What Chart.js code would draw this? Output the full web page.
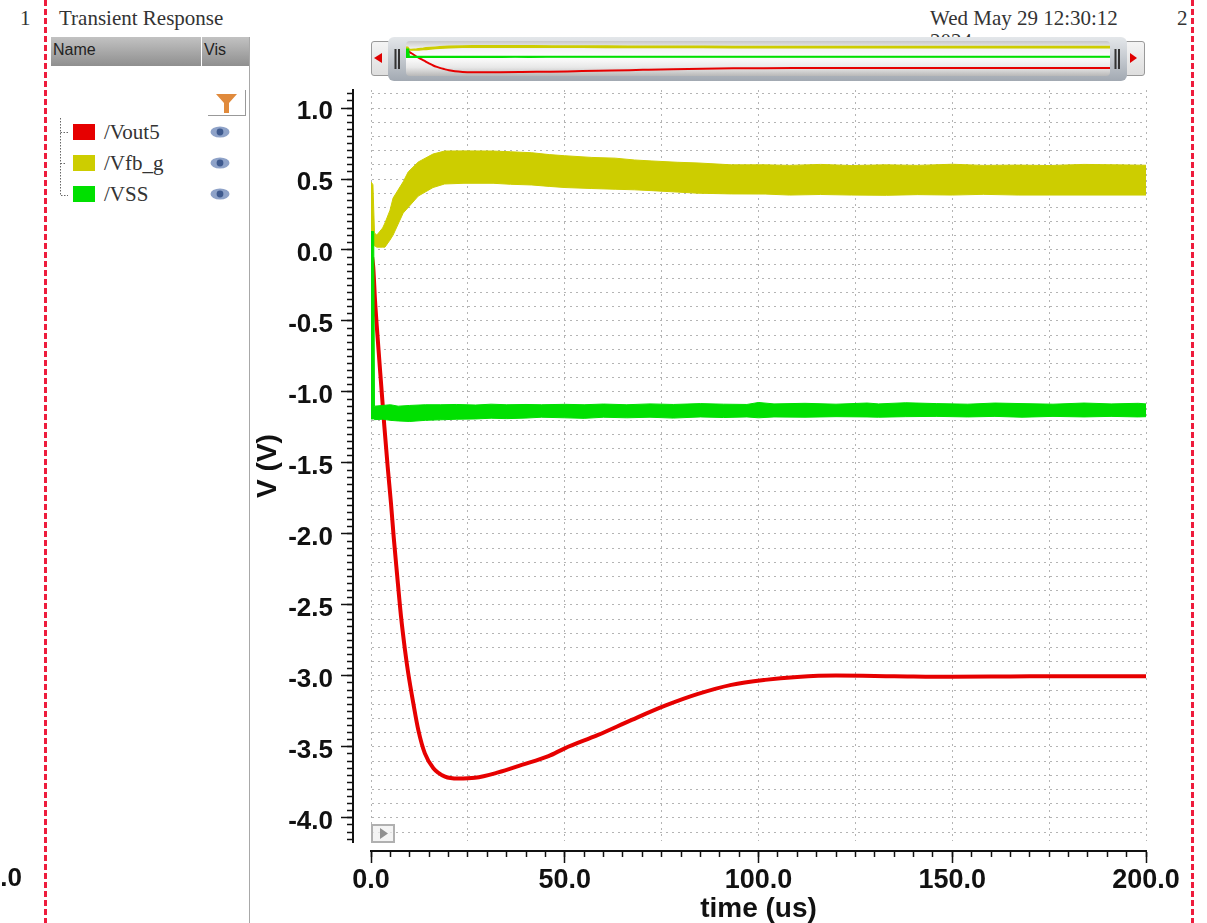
<!DOCTYPE html>
<html>
<head>
<meta charset="utf-8">
<title>Transient Response</title>
<script src="https://cdn.jsdelivr.net/npm/chart.js@4/dist/chart.umd.min.js"></script>
<style>
html,body{margin:0;padding:0;background:#fff;width:1207px;height:923px;overflow:hidden}
body{position:relative;font-family:"Liberation Serif",serif;color:#333}
.abs{position:absolute}
.dash{position:absolute;top:0;width:3px;height:923px;background:repeating-linear-gradient(to bottom,#ee1c3c 0,#ee1c3c 6px,#fff 6px,#fff 9px)}
.t{position:absolute;white-space:nowrap;font-size:21px;line-height:22px}
.sw{position:absolute;left:73px;width:22px;height:16px}
.hdr{position:absolute;top:37px;height:29px;background:linear-gradient(#c2c2c2,#8f8f8f);font:16px "Liberation Sans",sans-serif;color:#222;line-height:26px;box-sizing:border-box;padding-left:2px}
#mini{position:absolute;left:406px;top:40px}
#main{position:absolute;left:0;top:0}
</style>
</head>
<body>
<div class="dash" style="left:44px"></div>
<div class="dash" style="left:1191px"></div>
<div class="t" style="left:20px;top:7px">1</div>
<div class="t" style="left:1177px;top:7px">2</div>
<div class="t" id="ttl" style="left:59px;top:7px">Transient Response</div>
<div class="t" style="left:930px;top:7px">Wed May 29 12:30:12</div>
<div class="abs" style="left:930px;top:33px;width:60px;height:5px;overflow:hidden"><div class="t" style="left:0;top:-3px">2024</div></div>

<div class="hdr" style="left:51px;width:150px">Name</div>
<div class="hdr" style="left:202px;width:47px">Vis</div>
<div class="abs" style="left:249px;top:37px;width:1px;height:886px;background:#a8a8a8"></div>
<div class="abs" style="left:208px;top:90px;width:37px;height:25px;border-right:1px solid #999;border-bottom:1px solid #999;background:#fff">
<svg width="37" height="25"><polygon points="8,4 29,4 21,13 21,23 16,23 16,13" fill="#e08a3c"/></svg></div>
<svg class="abs" style="left:58px;top:115px" width="16" height="85"><path d="M2.5 3V80.5H10M2.5 17.5H10M2.5 48.5H8" fill="none" stroke="#666" stroke-dasharray="1.5 1.5"/></svg>
<div class="sw" style="top:124px;background:#e60000"></div>
<div class="sw" style="top:155px;background:#cdcd00"></div>
<div class="sw" style="top:186px;background:#00e000"></div>
<div class="t" style="left:104px;top:121px">/Vout5</div>
<div class="t" style="left:104px;top:152px">/Vfb_g</div>
<div class="t" style="left:104px;top:183px">/VSS</div>
<svg class="abs" style="left:210px;top:124px" width="20" height="80">
<g id="eye"><ellipse cx="10" cy="8" rx="9.5" ry="5.5" fill="#8ea2c8"/><circle cx="10" cy="8" r="3.4" fill="#3f5a8e"/></g>
<use href="#eye" y="31"/><use href="#eye" y="62"/></svg>

<!-- overview strip -->
<div class="abs" style="left:371px;top:41px;width:20px;height:35px;background:linear-gradient(#f4f4f4,#dedede);border:1px solid #999;border-radius:3px;box-sizing:border-box"></div>
<div class="abs" style="left:1124px;top:41px;width:21px;height:35px;background:linear-gradient(#f4f4f4,#dedede);border:1px solid #999;border-radius:3px;box-sizing:border-box"></div>
<div class="abs" style="left:388px;top:37px;width:739px;height:44px;border-radius:6px;background:linear-gradient(#e4e7ea,#c4c9cf 50%,#a2a9b2)"></div>
<div class="abs" style="left:406px;top:41px;width:704px;height:35px;border-radius:4px;background:linear-gradient(#c8c8c8,#f6f6f6 25%,#fff 45%,#e8e8e8 75%,#b8b8b8)"></div>
<svg class="abs" style="left:371px;top:37px" width="774" height="44">
<polygon points="3,21 11,16 11,26" fill="#e00000"/><polygon points="766,21 759,16 759,26" fill="#e00000"/>
<path d="M24.5 12V32M28 12V32M744.5 12V32M748 12V32" stroke="#333" stroke-width="2"/>
</svg>

<!-- plot -->
<canvas id="main" width="1207" height="923"></canvas>
<canvas id="mini" width="704" height="38"></canvas>

<div class="abs" style="left:371px;top:824px;width:20px;height:15px;border:2px solid #b0b0b0;background:rgba(240,240,240,.7)">
<svg width="20" height="15"><polygon points="7,2 15,7.5 7,13" fill="#909090"/></svg></div>
<div class="abs" style="left:-20px;top:862px;font:bold 26px 'Liberation Sans',sans-serif;color:#111;line-height:30px;width:42px;text-align:right">.0</div>

<script>
// Transient response, time in us, voltage in V
const seriesNames = ['/Vout5', '/Vfb_g', '/VSS'];
const xTickLabels = ['0.0', '50.0', '100.0', '150.0', '200.0'];
const yTickLabels = ['1.0','0.5','0.0','-0.5','-1.0','-1.5','-2.0','-2.5','-3.0','-3.5','-4.0'];

const vout5Time = [0.3,0.6,1.03,1.63,2.4,3.44,4.3,5.16,5.85,6.7,7.74,8.77,9.6,10.9,12.2,13.9,16.1,19.1,22.5,26.8,32.8,38.9,45.8,50,58.6,67.3,75.9,84.4,93,101.7,110,120,135,150,165,180,200];
const vout5Volt = [-0.05,-0.127,-0.352,-0.587,-0.869,-1.24,-1.526,-1.785,-2.02,-2.277,-2.58,-2.817,-2.98,-3.19,-3.38,-3.546,-3.65,-3.709,-3.723,-3.718,-3.68,-3.627,-3.565,-3.51,-3.416,-3.31,-3.21,-3.127,-3.063,-3.028,-3.008,-2.998,-3.002,-3.006,-3.004,-3.002,-3.003];

const vfbTime  = [0,0.5,0.9,1.5,3,3.6,4.9,5.7,8.3,9.6,12.2,16,19,24,31.5,36,41.5,46,50,57,63,68,72.5,79,84.4,93,101.7,108,116,124,133,141,150,158,167,175,184,192,200];
const vfbUpper = [0.48,0.46,0.12,0.105,0.155,0.19,0.28,0.366,0.48,0.55,0.62,0.676,0.697,0.698,0.697,0.692,0.685,0.672,0.664,0.652,0.647,0.634,0.627,0.618,0.613,0.6,0.6,0.596,0.603,0.595,0.6,0.596,0.604,0.596,0.598,0.595,0.603,0.6,0.597];
const vfbLower = [0.03,0.03,0.03,0.02,0.02,0.02,0.07,0.105,0.26,0.3,0.38,0.44,0.465,0.47,0.47,0.463,0.458,0.448,0.44,0.433,0.428,0.424,0.418,0.408,0.4,0.395,0.394,0.387,0.391,0.387,0.385,0.39,0.387,0.392,0.387,0.387,0.387,0.387,0.387];

const vssTime  = [0,0.7,0.9,3,5,7,10,14,18,22,27,31,35,40,44,50,55,60,66,72,78,85,91,97,100,104,112,120,128,131,138,146,154,161,168,176,184,191,198,200];
const vssUpper = [0.13,0.13,-1.1,-1.095,-1.09,-1.1,-1.095,-1.09,-1.09,-1.088,-1.092,-1.086,-1.09,-1.088,-1.09,-1.087,-1.09,-1.085,-1.09,-1.084,-1.088,-1.082,-1.086,-1.088,-1.074,-1.084,-1.08,-1.086,-1.078,-1.084,-1.076,-1.082,-1.086,-1.078,-1.082,-1.086,-1.078,-1.084,-1.08,-1.084];
const vssLower = [-1.19,-1.19,-1.195,-1.192,-1.2,-1.204,-1.208,-1.2,-1.196,-1.192,-1.19,-1.185,-1.188,-1.184,-1.178,-1.182,-1.186,-1.178,-1.182,-1.178,-1.184,-1.176,-1.18,-1.176,-1.182,-1.176,-1.178,-1.174,-1.176,-1.178,-1.174,-1.172,-1.176,-1.172,-1.178,-1.172,-1.176,-1.172,-1.176,-1.174];

const RED='#e60000', YEL='#cdcd00', GRN='#00e000', GRID='#b4b4b4', AXIS='#111';
const pts = (xs,ys) => xs.map((x,i)=>({x,y:ys[i]}));
const band = (name,t,up,lo,col,ord,w) => [
  {label:name+' max',data:pts(t,up),borderColor:col,backgroundColor:col,borderWidth:w,pointRadius:0,tension:0,fill:'+1',order:ord},
  {label:name+' min',data:pts(t,lo),borderColor:col,backgroundColor:col,borderWidth:w,pointRadius:0,tension:0,fill:false,order:ord}
];
const makeDatasets = (wBand,wLine) => [
  ...band(seriesNames[2],vssTime,vssUpper,vssLower,GRN,1,wBand),
  {label:seriesNames[0],data:pts(vout5Time,vout5Volt),borderColor:RED,borderWidth:wLine,pointRadius:0,cubicInterpolationMode:'monotone',fill:false,order:2},
  ...band(seriesNames[1],vfbTime,vfbUpper,vfbLower,YEL,3,wBand)
];

const yTickFont = {family:'"Liberation Sans",sans-serif',size:26,weight:'bold',lineHeight:0.3};
const xTickFont = {family:'"Liberation Sans",sans-serif',size:27,weight:'bold'};
const titleFont = {family:'"Liberation Sans",sans-serif',size:28,weight:'bold',lineHeight:1.2};
const yMin=-4.17, yMax=1.127;
const xLabel = v => xTickLabels[Math.round(v/50)] ?? '';
const yLabel = v => ['', yTickLabels[Math.round((1-v)/0.5)] ?? ''];

// places the axes a little away from the plot area, as in the reference
const offsetAxes = {
  id:'offsetAxes',
  afterLayout(c){
    const s=c.scales;
    s.y.left=0;    s.y.right=353;  s.y.width=353;
    s.y2.left=0;   s.y2.right=353; s.y2.width=353;
    s.x.top=851;   s.x.bottom=923; s.x.height=72;
    s.x2.top=851;  s.x2.bottom=923; s.x2.height=72;
  }
};

new Chart(document.getElementById('main'),{
  type:'line',
  data:{datasets:makeDatasets(1,4)},
  plugins:[offsetAxes],
  options:{
    responsive:false,animation:false,devicePixelRatio:1,
    layout:{padding:{top:90,right:61,left:0,bottom:0}},
    plugins:{legend:{display:false},tooltip:{enabled:false}},
    scales:{
      x:{type:'linear',position:'bottom',min:0,max:200,
        afterFit(s){s.height=81;},
        ticks:{stepSize:50,includeBounds:false,autoSkip:false,maxRotation:0,font:xTickFont,color:AXIS,padding:1,callback:xLabel},
        grid:{color:GRID,lineWidth:1,tickLength:12,tickColor:AXIS,tickWidth:1.5},
        border:{color:AXIS,width:2,dash:[2,4]},
        title:{display:true,text:'time (us)',font:titleFont,color:AXIS,padding:{top:0,bottom:-3}}
      },
      x2:{type:'linear',position:'bottom',min:0,max:200,
        afterFit(s){s.height=0;},
        ticks:{stepSize:5,includeBounds:false,autoSkip:false,display:false},
        grid:{color:c=>Math.round(c.tick.value)%25===0?GRID:'rgba(0,0,0,0)',lineWidth:1,tickLength:6,tickColor:AXIS,tickWidth:1.5},
        border:{color:AXIS,width:2,dash:[2,4]}
      },
      y:{type:'linear',position:'left',min:yMin,max:yMax,
        afterFit(s){s.width=371;},
        ticks:{stepSize:0.5,includeBounds:false,autoSkip:false,font:yTickFont,color:AXIS,padding:8,callback:yLabel},
        grid:{color:GRID,lineWidth:1,tickLength:12,tickColor:AXIS,tickWidth:1.5},
        border:{color:AXIS,width:2,dash:[2,4]},
        title:{display:true,text:'V (V)',font:titleFont,color:AXIS,padding:{top:251,bottom:0}}
      },
      y2:{type:'linear',position:'left',min:yMin,max:yMax,
        afterFit(s){s.width=0;},
        ticks:{stepSize:0.05,includeBounds:false,autoSkip:false,display:false},
        grid:{color:c=>Math.round(c.tick.value*20)%2===0?GRID:'rgba(0,0,0,0)',lineWidth:1,tickLength:6,tickColor:AXIS,tickWidth:1.5},
        border:{color:AXIS,width:2,dash:[2,4]}
      }
    }
  }
});

new Chart(document.getElementById('mini'),{
  type:'line',
  data:{datasets:makeDatasets(1.5,2)},
  options:{
    responsive:false,animation:false,devicePixelRatio:1,
    layout:{padding:0},
    plugins:{legend:{display:false},tooltip:{enabled:false}},
    scales:{
      x:{type:'linear',display:false,min:0,max:200},
      y:{type:'linear',display:false,min:-4.67,max:1.67}
    }
  }
});
</script>
</body>
</html>
